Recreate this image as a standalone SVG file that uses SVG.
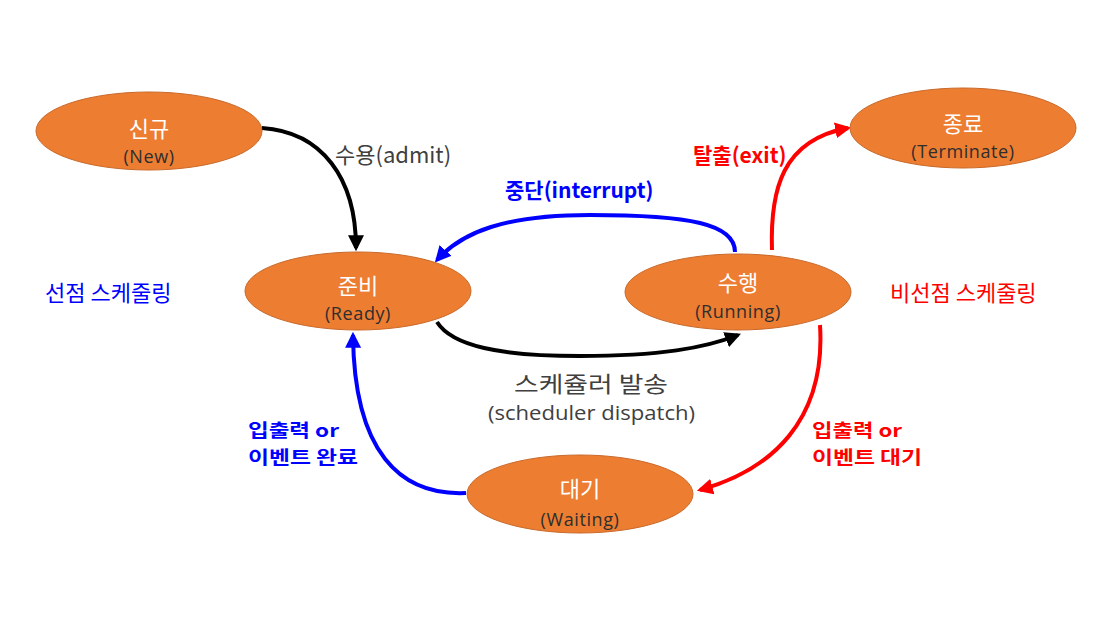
<svg xmlns="http://www.w3.org/2000/svg" width="1112" height="621" viewBox="0 0 1112 621">
<style>
.node{fill:#ED7D31;stroke:#C9692A;stroke-width:1}
.nt{text-anchor:middle}
.t{font-family:"Noto Sans CJK KR","Noto Sans",sans-serif;font-size:22px;fill:#FFFFFF}
.s{font-family:"Open Sans","Noto Sans CJK KR",sans-serif;font-size:18px;letter-spacing:0.6px;fill:#2E2E2E}
.lbl{font-family:"Noto Sans CJK KR","Open Sans",sans-serif;font-size:22px}
.b{font-weight:bold;font-size:21px}
.b2{font-family:"Noto Sans CJK KR","Open Sans",sans-serif;font-weight:bold;font-size:18px}
.lat{font-family:"Open Sans","Noto Sans CJK KR",sans-serif;font-size:20px}
.c{fill:none;stroke-width:4}
</style>
<defs>
<marker id="ak" viewBox="0 0 10 10" refX="8" refY="5" markerWidth="4" markerHeight="4" orient="auto" markerUnits="strokeWidth"><path d="M0,0 L10,5 L0,10 z" fill="#000"/></marker>
<marker id="ab" viewBox="0 0 10 10" refX="8" refY="5" markerWidth="4" markerHeight="4" orient="auto" markerUnits="strokeWidth"><path d="M0,0 L10,5 L0,10 z" fill="#0000FF"/></marker>
<marker id="ar" viewBox="0 0 10 10" refX="8" refY="5" markerWidth="4" markerHeight="4" orient="auto" markerUnits="strokeWidth"><path d="M0,0 L10,5 L0,10 z" fill="#FF0000"/></marker>
</defs>
<rect width="1112" height="621" fill="#FFFFFF"/>
<g id="connectors">
<path class="c" stroke="#000" marker-end="url(#ak)" d="M262,128 C322,132 356,178 356,248"/>
<path class="c" stroke="#0000FF" marker-end="url(#ab)" d="M735,252 C735,224 690,215 590,215 C505,215 462,232 437,260"/>
<path class="c" stroke="#000" marker-end="url(#ak)" d="M437,322 C452,346 500,356 580,356 C660,356 705,348 738,335"/>
<path class="c" stroke="#FF0000" marker-end="url(#ar)" d="M772,250 C770,190 782,140 848,128"/>
<path class="c" stroke="#FF0000" marker-end="url(#ar)" d="M820,325 C826,420 772,470 700,490"/>
<path class="c" stroke="#0000FF" marker-end="url(#ab)" d="M466,493 C400,496 354,452 353,335"/>
</g>
<g id="node-new"><ellipse class="node" cx="149" cy="131" rx="113" ry="39"/><text class="nt"><tspan class="t" x="149" y="137">신규</tspan><tspan class="s" x="149" y="163">(New)</tspan></text></g>
<g id="node-terminate"><ellipse class="node" cx="963" cy="128" rx="113" ry="40"/><text class="nt"><tspan class="t" x="963" y="132">종료</tspan><tspan class="s" x="963" y="158">(Terminate)</tspan></text></g>
<g id="node-ready"><ellipse class="node" cx="358" cy="291" rx="113" ry="39"/><text class="nt"><tspan class="t" x="358" y="294">준비</tspan><tspan class="s" x="358" y="320">(Ready)</tspan></text></g>
<g id="node-running"><ellipse class="node" cx="738" cy="292" rx="113" ry="38"/><text class="nt"><tspan class="t" x="738" y="291">수행</tspan><tspan class="s" x="738" y="318">(Running)</tspan></text></g>
<g id="node-waiting"><ellipse class="node" cx="580" cy="494" rx="113" ry="39"/><text class="nt"><tspan class="t" x="580" y="497">대기</tspan><tspan class="s" x="580" y="526">(Waiting)</tspan></text></g>
<g id="labels">
<text class="lbl" x="335" y="163" fill="#404040">수용(admit)</text>
<text class="lbl b" x="505" y="198" fill="#0000FF" font-size="22">중단(interrupt)</text>
<text class="lbl b" x="693" y="163" fill="#FF0000">탈출(exit)</text>
<text class="lbl" x="45" y="301" fill="#0000FF" font-size="21">선점 스케줄링</text>
<text class="lbl" x="890" y="301" fill="#FF0000" font-size="21">비선점 스케줄링</text>
<text class="lbl" x="514" y="392" fill="#404040" font-size="21" textLength="154" lengthAdjust="spacingAndGlyphs">스케쥴러 발송</text>
<text class="lat" x="488" y="420" fill="#404040" textLength="207" lengthAdjust="spacingAndGlyphs">(scheduler dispatch)</text>
<text class="b2" x="248" y="437" fill="#0000FF" textLength="91" lengthAdjust="spacingAndGlyphs">입출력 or</text>
<text class="b2" x="248" y="463.5" fill="#0000FF" textLength="110" lengthAdjust="spacingAndGlyphs">이벤트 완료</text>
<text class="b2" x="812" y="437" fill="#FF0000" textLength="90" lengthAdjust="spacingAndGlyphs">입출력 or</text>
<text class="b2" x="812" y="463.5" fill="#FF0000" textLength="110" lengthAdjust="spacingAndGlyphs">이벤트 대기</text>
</g>
</svg>
